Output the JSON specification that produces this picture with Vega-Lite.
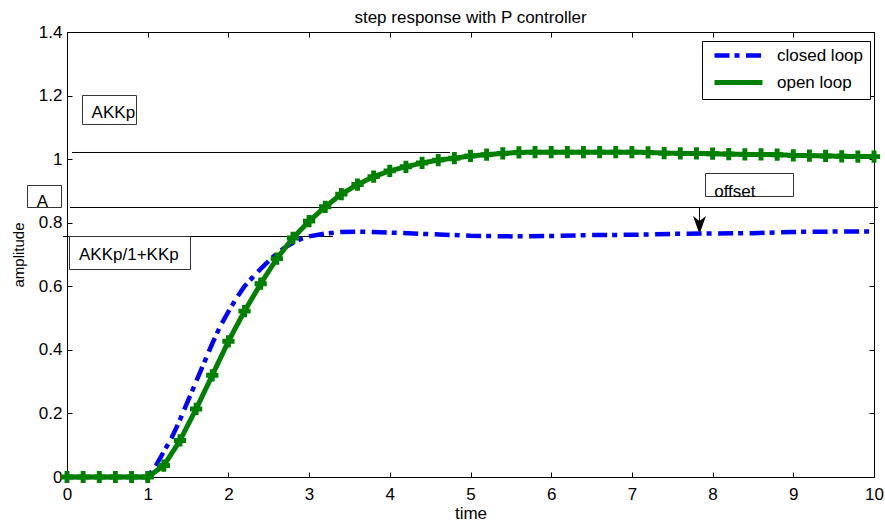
{
  "$schema": "https://vega.github.io/schema/vega-lite/v6.json",
  "width": 807,
  "height": 445,
  "autosize": {"type": "none"},
  "padding": {"left": 67, "top": 32, "right": 11, "bottom": 47},
  "background": "white",
  "title": {"text": "step response with P controller", "fontSize": 17, "fontWeight": "normal", "font": "Liberation Sans", "color": "black", "offset": -21, "baseline": "bottom", "frame": "group", "anchor": "middle"},
  "config": {"font": "Liberation Sans", "view": {"stroke": null}},
  "datasets": {
    "refs": [
      {"x1": 0.062, "x2": 4.746, "y": 1.0209},
      {"x1": 0.037, "x2": 10.05, "y": 0.847865},
      {"x1": -0.05, "x2": 3.296, "y": 0.756629}
    ],
    "boxes": [
      {"t1": 0.19207, "t2": 0.86121, "v1": 1.108989, "v2": 1.200225},
      {"t1": -0.48947, "t2": -0.06815, "v1": 0.847865, "v2": 0.917079},
      {"t1": 0.03098, "t2": 1.53036, "v1": 0.652809, "v2": 0.756629},
      {"t1": 7.91202, "t2": 9.00248, "v1": 0.882472, "v2": 0.954831}
    ],
    "labels": [
      {"label": "AKKp", "t": 0.305, "v": 1.129},
      {"label": "A", "t": -0.376, "v": 0.85},
      {"label": "AKKp/1+KKp", "t": 0.149, "v": 0.683},
      {"label": "offset", "t": 8.02, "v": 0.881}
    ],
    "arrow": [
      {"t": 7.8377, "v1": 0.847865, "v2": 0.793}
    ],
    "curves": [
      {"series": "closed loop", "t": 0, "v": 0},
      {"series": "closed loop", "t": 0.5, "v": 0},
      {"series": "closed loop", "t": 1.0, "v": 0},
      {"series": "closed loop", "t": 1.1, "v": 0.035},
      {"series": "closed loop", "t": 1.2, "v": 0.08},
      {"series": "closed loop", "t": 1.3, "v": 0.125},
      {"series": "closed loop", "t": 1.4, "v": 0.18},
      {"series": "closed loop", "t": 1.5, "v": 0.24},
      {"series": "closed loop", "t": 1.6, "v": 0.3},
      {"series": "closed loop", "t": 1.7, "v": 0.36},
      {"series": "closed loop", "t": 1.8, "v": 0.42},
      {"series": "closed loop", "t": 1.9, "v": 0.475},
      {"series": "closed loop", "t": 2.0, "v": 0.52},
      {"series": "closed loop", "t": 2.1, "v": 0.563},
      {"series": "closed loop", "t": 2.2, "v": 0.6},
      {"series": "closed loop", "t": 2.3, "v": 0.628},
      {"series": "closed loop", "t": 2.4, "v": 0.655},
      {"series": "closed loop", "t": 2.5, "v": 0.68},
      {"series": "closed loop", "t": 2.6, "v": 0.703},
      {"series": "closed loop", "t": 2.7, "v": 0.722},
      {"series": "closed loop", "t": 2.8, "v": 0.737},
      {"series": "closed loop", "t": 2.9, "v": 0.749},
      {"series": "closed loop", "t": 3.0, "v": 0.757},
      {"series": "closed loop", "t": 3.2, "v": 0.766},
      {"series": "closed loop", "t": 3.4, "v": 0.771},
      {"series": "closed loop", "t": 3.6, "v": 0.772},
      {"series": "closed loop", "t": 3.8, "v": 0.771},
      {"series": "closed loop", "t": 4.0, "v": 0.769},
      {"series": "closed loop", "t": 4.5, "v": 0.764},
      {"series": "closed loop", "t": 5.0, "v": 0.759},
      {"series": "closed loop", "t": 5.5, "v": 0.757},
      {"series": "closed loop", "t": 6.0, "v": 0.758},
      {"series": "closed loop", "t": 6.5, "v": 0.761},
      {"series": "closed loop", "t": 7.0, "v": 0.762},
      {"series": "closed loop", "t": 7.5, "v": 0.765},
      {"series": "closed loop", "t": 8.0, "v": 0.766},
      {"series": "closed loop", "t": 8.5, "v": 0.767},
      {"series": "closed loop", "t": 9.0, "v": 0.771},
      {"series": "closed loop", "t": 9.5, "v": 0.772},
      {"series": "closed loop", "t": 10.0, "v": 0.772},
      {"series": "open loop", "t": 0, "v": 0},
      {"series": "open loop", "t": 0.2, "v": 0},
      {"series": "open loop", "t": 0.4, "v": 0},
      {"series": "open loop", "t": 0.6, "v": 0},
      {"series": "open loop", "t": 0.8, "v": 0},
      {"series": "open loop", "t": 1.0, "v": 0},
      {"series": "open loop", "t": 1.2, "v": 0.036},
      {"series": "open loop", "t": 1.4, "v": 0.115},
      {"series": "open loop", "t": 1.6, "v": 0.214},
      {"series": "open loop", "t": 1.8, "v": 0.32},
      {"series": "open loop", "t": 2.0, "v": 0.427},
      {"series": "open loop", "t": 2.2, "v": 0.522},
      {"series": "open loop", "t": 2.4, "v": 0.608},
      {"series": "open loop", "t": 2.6, "v": 0.687},
      {"series": "open loop", "t": 2.8, "v": 0.752},
      {"series": "open loop", "t": 3.0, "v": 0.805},
      {"series": "open loop", "t": 3.2, "v": 0.85},
      {"series": "open loop", "t": 3.4, "v": 0.89},
      {"series": "open loop", "t": 3.6, "v": 0.92},
      {"series": "open loop", "t": 3.8, "v": 0.945},
      {"series": "open loop", "t": 4.0, "v": 0.963},
      {"series": "open loop", "t": 4.2, "v": 0.976},
      {"series": "open loop", "t": 4.4, "v": 0.988},
      {"series": "open loop", "t": 4.6, "v": 0.997},
      {"series": "open loop", "t": 4.8, "v": 1.003},
      {"series": "open loop", "t": 5.0, "v": 1.01},
      {"series": "open loop", "t": 5.2, "v": 1.014},
      {"series": "open loop", "t": 5.4, "v": 1.018},
      {"series": "open loop", "t": 5.6, "v": 1.021},
      {"series": "open loop", "t": 5.8, "v": 1.022},
      {"series": "open loop", "t": 6.0, "v": 1.022},
      {"series": "open loop", "t": 6.2, "v": 1.022},
      {"series": "open loop", "t": 6.4, "v": 1.022},
      {"series": "open loop", "t": 6.6, "v": 1.022},
      {"series": "open loop", "t": 6.8, "v": 1.022},
      {"series": "open loop", "t": 7.0, "v": 1.022},
      {"series": "open loop", "t": 7.2, "v": 1.021},
      {"series": "open loop", "t": 7.4, "v": 1.019},
      {"series": "open loop", "t": 7.6, "v": 1.018},
      {"series": "open loop", "t": 7.8, "v": 1.018},
      {"series": "open loop", "t": 8.0, "v": 1.017},
      {"series": "open loop", "t": 8.2, "v": 1.016},
      {"series": "open loop", "t": 8.4, "v": 1.015},
      {"series": "open loop", "t": 8.6, "v": 1.015},
      {"series": "open loop", "t": 8.8, "v": 1.014},
      {"series": "open loop", "t": 9.0, "v": 1.012},
      {"series": "open loop", "t": 9.2, "v": 1.011},
      {"series": "open loop", "t": 9.4, "v": 1.01},
      {"series": "open loop", "t": 9.6, "v": 1.009},
      {"series": "open loop", "t": 9.8, "v": 1.008},
      {"series": "open loop", "t": 10.0, "v": 1.008}
    ]
  },
  "resolve": {"axis": {"x": "independent", "y": "independent"}},
  "layer": [
    {
      "data": {"name": "refs"},
      "mark": {"type": "rule", "color": "black", "strokeWidth": 1},
      "encoding": {
        "x": {"field": "x1", "type": "quantitative", "axis": null, "scale": {"domain": [0, 10], "nice": false, "zero": false}},
        "x2": {"field": "x2"},
        "y": {"field": "y", "type": "quantitative", "axis": null, "scale": {"domain": [0, 1.4], "nice": false, "zero": false}}
      }
    },
    {
      "data": {"name": "boxes"},
      "mark": {"type": "rect", "fill": "white", "stroke": "#333333", "strokeWidth": 1},
      "encoding": {
        "x": {"field": "t1", "type": "quantitative", "axis": null, "scale": {"domain": [0, 10], "nice": false, "zero": false}},
        "x2": {"field": "t2"},
        "y": {"field": "v1", "type": "quantitative", "axis": null, "scale": {"domain": [0, 1.4], "nice": false, "zero": false}},
        "y2": {"field": "v2"}
      }
    },
    {
      "data": {"name": "labels"},
      "mark": {"type": "text", "align": "left", "baseline": "alphabetic", "fontSize": 17, "font": "Liberation Sans", "color": "black"},
      "encoding": {
        "x": {"field": "t", "type": "quantitative", "axis": null, "scale": {"domain": [0, 10], "nice": false, "zero": false}},
        "y": {"field": "v", "type": "quantitative", "axis": null, "scale": {"domain": [0, 1.4], "nice": false, "zero": false}},
        "text": {"field": "label"}
      }
    },
    {
      "data": {"name": "arrow"},
      "mark": {"type": "rule", "color": "black", "strokeWidth": 1},
      "encoding": {
        "x": {"field": "t", "type": "quantitative", "axis": null, "scale": {"domain": [0, 10], "nice": false, "zero": false}},
        "y": {"field": "v1", "type": "quantitative", "axis": null, "scale": {"domain": [0, 1.4], "nice": false, "zero": false}},
        "y2": {"field": "v2"}
      }
    },
    {
      "data": {"name": "arrow"},
      "mark": {"type": "point", "shape": "M-0.72,-1L0,1L0.72,-1L0,-0.44Z", "filled": true, "color": "black", "opacity": 1, "size": 324},
      "encoding": {
        "x": {"field": "t", "type": "quantitative", "axis": null, "scale": {"domain": [0, 10], "nice": false, "zero": false}},
        "y": {"field": "v2", "type": "quantitative", "axis": null, "scale": {"domain": [0, 1.4], "nice": false, "zero": false}}
      }
    },
    {
      "data": {"name": "curves"},
      "mark": {"type": "line", "strokeCap": "butt", "strokeJoin": "round"},
      "encoding": {
        "x": {"field": "t", "type": "quantitative", "scale": {"domain": [0, 10], "nice": false, "zero": false},
          "axis": {"orient": "bottom", "values": [0, 1, 2, 3, 4, 5, 6, 7, 8, 9, 10], "tickSize": -5, "tickColor": "black", "labelPadding": 14, "labelFontSize": 17, "labelColor": "black", "labelFont": "Liberation Sans", "labelFlush": false, "labelOverlap": false, "domainColor": "black", "grid": false, "title": "time", "titleFontSize": 17, "titleFontWeight": "normal", "titleColor": "black", "titlePadding": 3, "titleFont": "Liberation Sans"}},
        "y": {"field": "v", "type": "quantitative", "scale": {"domain": [0, 1.4], "nice": false, "zero": false},
          "axis": {"orient": "left", "values": [0, 0.2, 0.4, 0.6, 0.8, 1, 1.2, 1.4], "format": "~g", "tickSize": -5, "tickColor": "black", "labelPadding": 10, "labelFontSize": 17, "labelColor": "black", "labelFont": "Liberation Sans", "labelFlush": false, "labelOverlap": false, "domainColor": "black", "grid": false, "title": "amplitude", "titleFontSize": 15, "titleFontWeight": "normal", "titleColor": "black", "titlePadding": 12, "titleFont": "Liberation Sans"}},
        "color": {"field": "series", "type": "nominal",
          "scale": {"domain": ["closed loop", "open loop"], "range": ["#0000ff", "#008000"]},
          "legend": {"orient": "none", "legendX": 635, "legendY": 9, "title": null, "fillColor": "white", "strokeColor": "black", "padding": 6, "symbolType": "M-0.333,0L7.667,0", "symbolSize": 144, "labelFontSize": 17, "labelFont": "Liberation Sans", "labelColor": "black", "labelOffset": 52, "rowPadding": 7}},
        "strokeDash": {"field": "series", "type": "nominal",
          "scale": {"domain": ["closed loop", "open loop"], "range": [[15, 5, 5, 6.5], [1, 0]]}},
        "strokeWidth": {"field": "series", "type": "nominal",
          "scale": {"domain": ["closed loop", "open loop"], "range": [4.5, 5]}}
      }
    },
    {
      "data": {"name": "curves"},
      "transform": [{"filter": "datum.series === 'open loop'"}],
      "mark": {"type": "point", "shape": "cross", "filled": true, "color": "#008000", "opacity": 1, "size": 150},
      "encoding": {
        "x": {"field": "t", "type": "quantitative", "scale": {"domain": [0, 10], "nice": false, "zero": false},
          "axis": {"orient": "top", "values": [0, 1, 2, 3, 4, 5, 6, 7, 8, 9, 10], "tickSize": -5, "tickColor": "black", "labels": false, "domainColor": "black", "grid": false, "title": null}},
        "y": {"field": "v", "type": "quantitative", "scale": {"domain": [0, 1.4], "nice": false, "zero": false},
          "axis": {"orient": "right", "values": [0, 0.2, 0.4, 0.6, 0.8, 1, 1.2, 1.4], "tickSize": -5, "tickColor": "black", "labels": false, "domainColor": "black", "grid": false, "title": null}}
      }
    }
  ]
}
